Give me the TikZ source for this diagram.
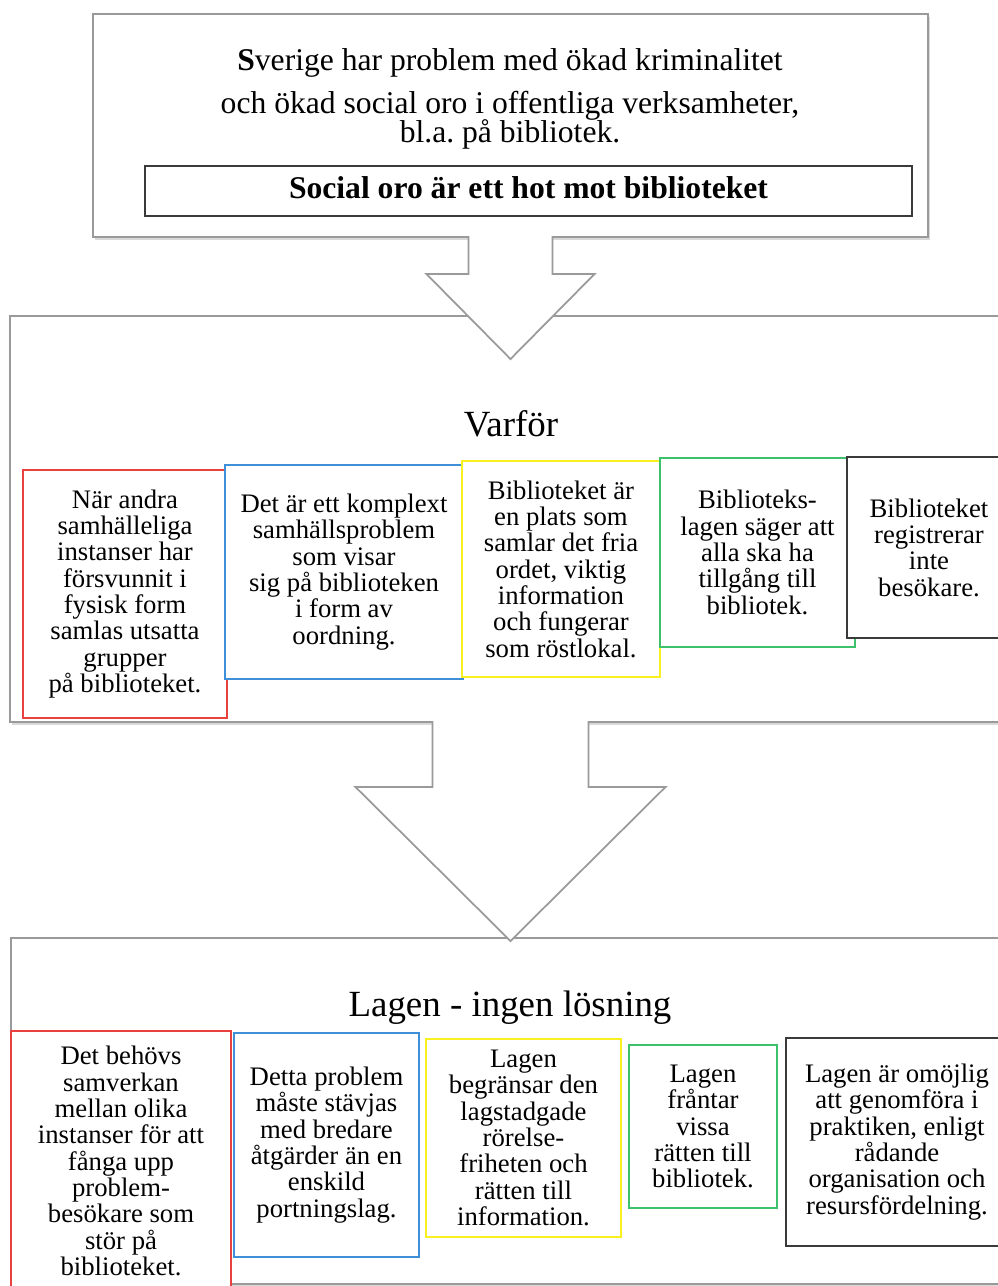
\documentclass[tikz,border=0pt]{standalone}
\usepackage{fontspec}
\setmainfont{Liberation Serif}
\usetikzlibrary{calc,shadows}

\definecolor{framegray}{HTML}{9A9A9A}
\definecolor{boxred}{HTML}{E8413F}
\definecolor{boxblue}{HTML}{3F8ED8}
\definecolor{boxyellow}{HTML}{F8F020}
\definecolor{boxgreen}{HTML}{3DC26B}
\definecolor{boxdark}{HTML}{3A3A3A}

\tikzset{
    panel/.style={draw=framegray, line width=1.2pt, fill=white,
        drop shadow={shadow xshift=1pt, shadow yshift=-1.5pt, opacity=0.3}},
    reason/.style={draw, line width=1.1pt, fill=white, align=center, inner sep=0pt,
        font=\fontsize{15.2}{15}\selectfont},
    bigarrow/.style={draw=framegray, line width=1pt, fill=white, line join=miter},
    heading/.style={anchor=base, font=\fontsize{21}{25}\selectfont},
    topline/.style={anchor=base, font=\fontsize{18}{20}\selectfont}
}

\begin{document}
\begin{tikzpicture}[x=0.02cm, y=-0.02cm]
\useasboundingbox (0,0) rectangle (998,1286);

    %% Panels
    % Varfor panel
    \node[panel, minimum width=20.4cm, minimum height=8.12cm] (varfor) at (520,519) {};
    % Lagen panel
    \node[panel, minimum width=20.38cm, minimum height=6.92cm] (lagen) at (520.5,1111) {};
    % Problem box
    \node[panel, minimum width=16.7cm, minimum height=4.46cm] (problem) at (510.5,125.5) {};

    %% Block arrows
    \draw[bigarrow] ($(problem.south)+(-42,-2)$) -- ++(0,38) -- ++(-42,0) -- ++(84,85)
        -- ++(84,-85) -- ++(-42,0) -- ++(0,-38);
    \draw[bigarrow] ($(varfor.south -| problem.south)+(-78,-2)$) -- ++(0,66) -- ++(-77,0)
        -- ++(155,154) -- ++(155,-154) -- ++(-77,0) -- ++(0,-66);

    %% Problem text
    \node[topline] (line1) at (510,70) {\textbf{S}verige har problem med ökad kriminalitet};
    \node[topline] (line2) at (510,113) {och ökad social oro i offentliga verksamheter,};
    \node[topline] (line3) at (510,142) {bl.a.\ på bibliotek.};
    \node[draw=boxdark, line width=1.2pt, minimum width=15.34cm, minimum height=1cm,
        text height=9pt, text depth=0pt, font=\fontsize{18}{20}\selectfont\bfseries]
        (hot) at (528.5,191) {Social oro är ett hot mot biblioteket};

    %% Varfor
    \node[heading] (varfortitle) at (511,436) {Varför};
    \node[reason, draw=boxred, minimum width=4.08cm, minimum height=4.96cm] (why1) at (125,594)
        {När andra\\samhälleliga\\instanser har\\försvunnit i\\fysisk form\\samlas utsatta\\grupper\\på biblioteket.};
    \node[reason, draw=boxblue, minimum width=4.76cm, minimum height=4.28cm] (why2) at (344,572)
        {Det är ett komplext\\samhällsproblem\\som visar\\sig på biblioteken\\i form av\\oordning.};
    \node[reason, draw=boxyellow, minimum width=3.96cm, minimum height=4.32cm] (why3) at (561,569)
        {Biblioteket är\\en plats som\\samlar det fria\\ordet, viktig\\information\\och fungerar\\som röstlokal.};
    \node[reason, draw=boxgreen, minimum width=3.9cm, minimum height=3.78cm] (why4) at (757.5,552.5)
        {Biblioteks-\\lagen säger att\\alla ska ha\\tillgång till\\bibliotek.};
    \node[reason, draw=boxdark, minimum width=3.28cm, minimum height=3.62cm] (why5) at (929,547.5)
        {Biblioteket\\registrerar\\inte\\besökare.};

    %% Lagen
    \node[heading] (lagentitle) at (510,1016) {Lagen - ingen lösning};
    \node[reason, draw=boxred, minimum width=4.4cm, minimum height=5.2cm] (law1) at (121,1161)
        {Det behövs\\samverkan\\mellan olika\\instanser för att\\fånga upp\\problem-\\besökare som\\stör på\\biblioteket.};
    \node[reason, draw=boxblue, minimum width=3.7cm, minimum height=4.48cm] (law2) at (326.5,1145)
        {Detta problem\\måste stävjas\\med bredare\\åtgärder än en\\enskild\\portningslag.};
    \node[reason, draw=boxyellow, minimum width=3.9cm, minimum height=3.96cm] (law3) at (523.5,1138)
        {Lagen\\begränsar den\\lagstadgade\\rörelse-\\friheten och\\rätten till\\information.};
    \node[reason, draw=boxgreen, minimum width=2.96cm, minimum height=3.26cm] (law4) at (703,1126.5)
        {Lagen\\fråntar\\vissa\\rätten till\\bibliotek.};
    \node[reason, draw=boxdark, minimum width=4.44cm, minimum height=4.16cm] (law5) at (897,1142)
        {Lagen är omöjlig\\att genomföra i\\praktiken, enligt\\rådande\\organisation och\\resursfördelning.};

\end{tikzpicture}
\end{document}
